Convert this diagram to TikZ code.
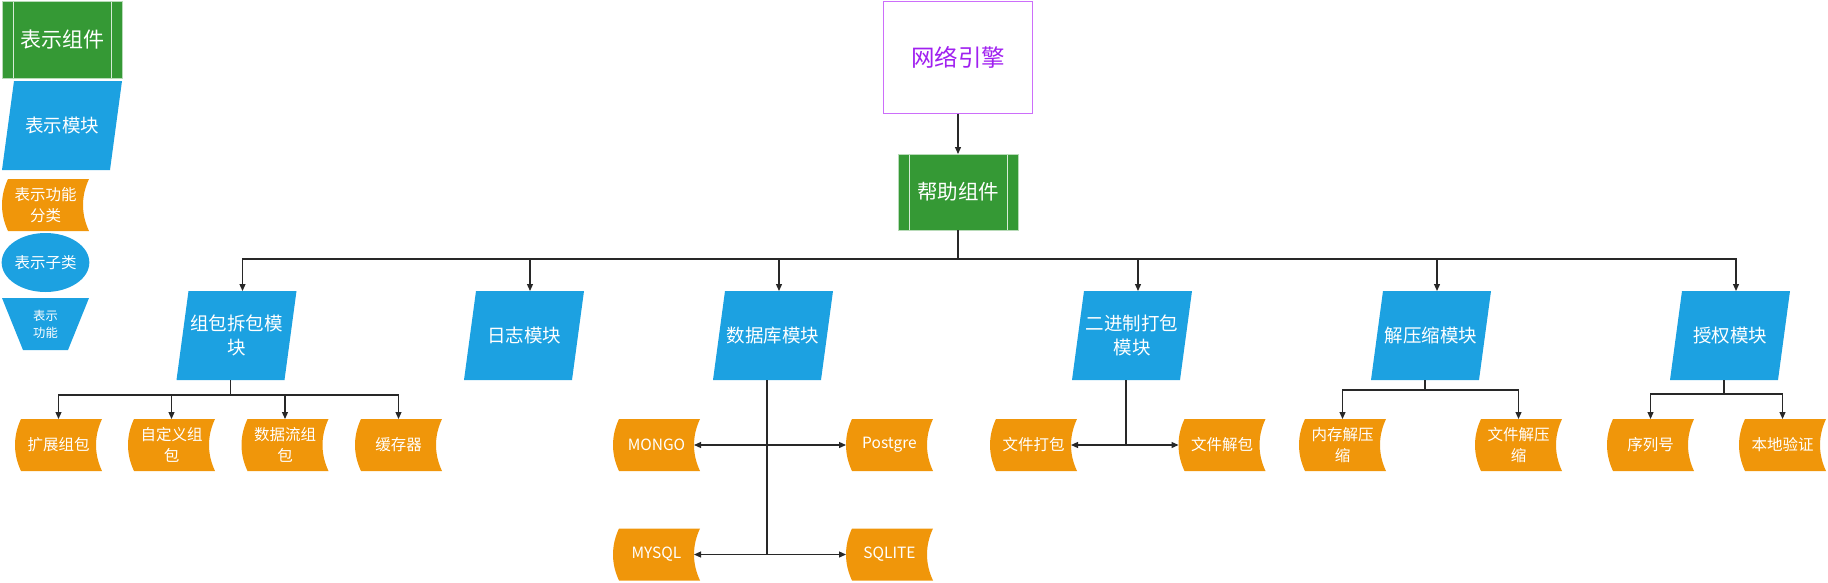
\documentclass[tikz,border=0pt]{standalone}
\usepackage{fontspec}
\newfontfamily\cjk{Noto Sans CJK SC}
\usetikzlibrary{arrows.meta,backgrounds,shapes.geometric,calc}
\definecolor{cgreen}{RGB}{53,153,53}
\definecolor{cblue}{RGB}{28,161,225}
\definecolor{corange}{RGB}{240,150,10}
\definecolor{cpurple}{RGB}{204,110,250}
\definecolor{ctext}{RGB}{160,32,240}
\definecolor{cline}{RGB}{40,40,40}
\tikzset{
 base/.style={inner sep=0pt, outer sep=0pt, align=center, text=white},
 comp/.style={base, minimum width=120pt, minimum height=76pt, fill=cgreen, draw=cgreen!35!white, line width=0.6pt,
   font=\cjk\fontsize{20.5}{26}\selectfont,
   path picture={\draw[white!80!cgreen, line width=0.8pt]
     ([xshift=11pt]path picture bounding box.north west) -- ([xshift=11pt]path picture bounding box.south west)
     ([xshift=-11pt]path picture bounding box.north east) -- ([xshift=-11pt]path picture bounding box.south east);}},
 modbox/.style={base, minimum width=120pt, minimum height=89pt, font=\cjk\fontsize{18.5}{24}\selectfont},
 func/.style={base, minimum width=87pt, minimum height=52pt, font=\cjk\fontsize{15.5}{21}\selectfont},
 conn/.style={draw=cline, line width=1.2pt},
 arr/.style={conn, -{Triangle[length=7pt,width=6pt]}},
}
\newcommand\mkmod[1]{\fill[cblue] ([xshift=12pt]#1.north west) -- (#1.north east) -- ([xshift=-12pt]#1.south east) -- (#1.south west) -- cycle;}
\newcommand\mkfunc[1]{\fill[corange] ([xshift=6pt]#1.north west) -- (#1.north east)
  .. controls ([xshift=-8pt,yshift=-17pt]#1.north east) and ([xshift=-8pt,yshift=17pt]#1.south east) .. (#1.south east)
  -- ([xshift=6pt]#1.south west)
  .. controls ([xshift=-2pt,yshift=17pt]#1.south west) and ([xshift=-2pt,yshift=-17pt]#1.north west) .. ([xshift=6pt]#1.north west) -- cycle;}
\begin{document}
\begin{tikzpicture}[x=1pt,y=-1pt]
\useasboundingbox (0,0) rectangle (1828,582);
% legend
\node[comp, minimum height=77pt, font=\cjk\fontsize{21}{26}\selectfont] (lcomp) at (62,39.5) {表示组件};
\node[modbox] (lmod) at (62,125.5) {表示模块};
\node[func] (lfunc) at (45.5,205) {表示功能\\分类};
\node[base, ellipse, fill=cblue, minimum width=87pt, minimum height=59pt, font=\cjk\fontsize{15.5}{21}\selectfont] (lsub) at (45.5,262.5) {表示子类};
\node[base, minimum width=87pt, minimum height=52pt, font=\cjk\fontsize{12.3}{17}\selectfont] (lfun) at (45.5,324) {表示\\功能};
% top
\node[base, draw=cpurple, line width=1.5pt, fill=white, text=ctext, minimum width=149pt, minimum height=112pt, font=\cjk\fontsize{23.5}{28}\selectfont] (net) at (958,57.5) {网络引擎};
\node[comp] (help) at (958,192) {帮助组件};
% modules
\node[modbox] (m1) at (236.5,335.5) {组包拆包模\\块};
\node[modbox] (m2) at (524,335.5) {日志模块};
\node[modbox] (m3) at (773,335.5) {数据库模块};
\node[modbox] (m4) at (1132,335.5) {二进制打包\\模块};
\node[modbox] (m5) at (1431,335.5) {解压缩模块};
\node[modbox] (m6) at (1730,335.5) {授权模块};
% functions
\node[func] (f11) at (58.5,445) {扩展组包};
\node[func] (f12) at (171.5,445) {自定义组\\包};
\node[func] (f13) at (285,445) {数据流组\\包};
\node[func] (f14) at (398.5,445) {缓存器};
\node[func] (f31) at (656.5,445) {MONGO};
\node[func] (f32) at (889.5,445) {Postgre};
\node[func] (f33) at (656.5,554.5) {MYSQL};
\node[func] (f34) at (889.5,554.5) {SQLITE};
\node[func] (f41) at (1033.5,445) {文件打包};
\node[func] (f42) at (1222,445) {文件解包};
\node[func] (f51) at (1342.5,445) {内存解压\\缩};
\node[func] (f52) at (1518.5,445) {文件解压\\缩};
\node[func] (f61) at (1650.5,445) {序列号};
\node[func] (f62) at (1782.5,445) {本地验证};
% shapes behind text
\begin{scope}[on background layer]
\mkmod{lmod}\mkmod{m1}\mkmod{m2}\mkmod{m3}\mkmod{m4}\mkmod{m5}\mkmod{m6}
\mkfunc{lfunc}
\mkfunc{f11}\mkfunc{f12}\mkfunc{f13}\mkfunc{f14}
\mkfunc{f31}\mkfunc{f32}\mkfunc{f33}\mkfunc{f34}
\mkfunc{f41}\mkfunc{f42}\mkfunc{f51}\mkfunc{f52}\mkfunc{f61}\mkfunc{f62}
\fill[cblue] (lfun.north west) -- (lfun.north east) -- ([xshift=-21pt]lfun.south east) -- ([xshift=21pt]lfun.south west) -- cycle;
\end{scope}
% connectors
\draw[arr] (net) -- (help);
\coordinate (bus) at (958,259);
\draw[conn] (help.south) -- (bus);
\foreach \m in {m1,m2,m3,m4,m5,m6} \draw[arr] (bus) -| ([xshift=6pt]\m.north);
\foreach \f in {f11,f12,f13,f14} \draw[arr] ([xshift=-6pt]m1.south) -- ++(0,15) -| (\f.north);
\foreach \f in {f51,f52} \draw[arr] ([xshift=-6pt]m5.south) -- ++(0,10) -| (\f.north);
\foreach \f in {f61,f62} \draw[arr] ([xshift=-6pt]m6.south) -- ++(0,14) -| (\f.north);
\coordinate (d0) at ([xshift=-6pt]m3.south);
\draw[conn] (d0) -- (d0 |- f33.east);
\draw[arr] (d0 |- f31.east) -- ([xshift=-6pt]f31.east);
\draw[arr] (d0 |- f31.east) -- (f32.west);
\draw[arr] (d0 |- f33.east) -- ([xshift=-6pt]f33.east);
\draw[arr] (d0 |- f33.east) -- (f34.west);
\coordinate (b0) at ([xshift=-6pt]m4.south);
\draw[conn] (b0) -- (b0 |- f41.east);
\draw[arr] (b0 |- f41.east) -- ([xshift=-6pt]f41.east);
\draw[arr] (b0 |- f41.east) -- (f42.west);
\end{tikzpicture}
\end{document}
